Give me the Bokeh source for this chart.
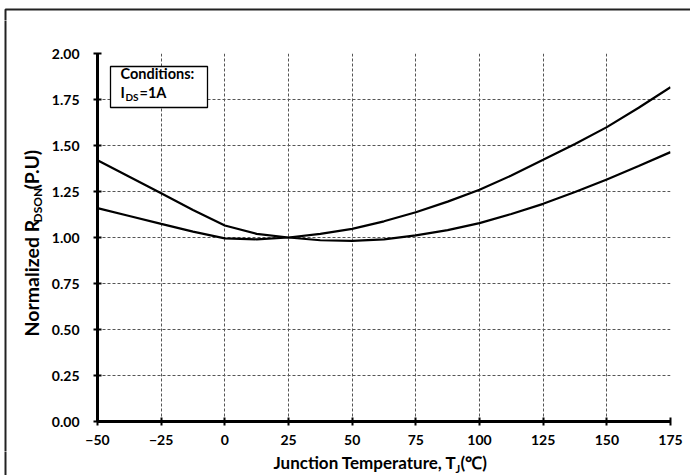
import math
from bokeh.plotting import figure
from bokeh.layouts import column, row
from bokeh.models import Range1d, FixedTicker, PrintfTickFormatter, Label, BoxAnnotation
from bokeh.embed import file_html
from bokeh.resources import INLINE

# ---- data ----
temps = [-50, -37.5, -25, -12.5, 0, 12.5, 25, 37.5, 50, 62.5, 75, 87.5, 100, 112.5, 125, 137.5, 150, 162.5, 175]
rdson_a = [1.42, 1.33, 1.24, 1.15, 1.065, 1.02, 1.00, 0.985, 0.982, 0.99, 1.012, 1.04, 1.078, 1.128, 1.183, 1.247, 1.315, 1.388, 1.464]
rdson_b = [1.16, 1.117, 1.074, 1.032, 0.995, 0.99, 1.00, 1.02, 1.047, 1.088, 1.137, 1.195, 1.26, 1.337, 1.422, 1.508, 1.60, 1.705, 1.817]
x_ticks = [-50, -25, 0, 25, 50, 75, 100, 125, 150, 175]
y_ticks = [0, 0.25, 0.5, 0.75, 1.0, 1.25, 1.5, 1.75, 2.0]

W, H = 690, 475
TOP_H = 20          # strip holding the top border
LEFT_W = 48         # strip holding the y-axis title
BOT_Y = 451         # canvas y where the x-title strip starts
FL, FR, FT, FB = 97, 670, 53, 421  # frame edges in canvas px
FONT = "Lato"
BORDER = "#222222"
SHIFT = 0.4         # baseline correction (in em) for Label text

# ---------------- main chart ----------------
p = figure(width=W - LEFT_W, height=BOT_Y - TOP_H, output_backend="svg", toolbar_location=None,
           x_range=Range1d(-50, 175), y_range=Range1d(0, 2),
           min_border_left=FL - LEFT_W, min_border_right=W - FR,
           min_border_top=FT - TOP_H, min_border_bottom=BOT_Y - FB,
           frame_align=False)
p.outline_line_color = None
p.background_fill_color = "white"
p.border_fill_color = "white"

for ax in (p.xaxis[0], p.yaxis[0]):
    ax.axis_line_width = 3
    ax.axis_line_color = "black"
    ax.major_tick_in = 4
    ax.major_tick_out = 4
    ax.major_tick_line_width = 2
    ax.major_tick_line_color = "black"
    ax.minor_tick_line_color = None
    ax.major_label_text_font = FONT
    ax.major_label_text_font_style = "bold"
    ax.major_label_text_font_size = "14px"
    ax.major_label_text_color = "black"

p.xaxis.ticker = FixedTicker(ticks=x_ticks)
p.yaxis.ticker = FixedTicker(ticks=y_ticks)
p.yaxis.formatter = PrintfTickFormatter(format="%.2f")
p.xaxis.major_label_standoff = 9
p.yaxis.major_label_standoff = 14

for g in (p.xgrid[0], p.ygrid[0]):
    g.grid_line_color = "#555555"
    g.grid_line_dash = "3 2"
    g.grid_line_width = 1

p.line(temps, rdson_a, line_color="black", line_width=2.2)
p.line(temps, rdson_b, line_color="black", line_width=2.2)

def sx(cx):
    return cx - FL

def sy(cy):
    return FB - cy

# conditions box
p.add_layout(BoxAnnotation(left=sx(110), right=sx(207), top=sy(66), bottom=sy(107),
                           left_units="screen", right_units="screen",
                           top_units="screen", bottom_units="screen",
                           fill_color="white", fill_alpha=1,
                           line_color="black", line_alpha=1, line_width=1.3))

def lab(fig, x, y, text, size, angle=0, units="screen"):
    fig.add_layout(Label(x=x, y=y, x_units=units, y_units=units,
                         text=text, text_font=FONT, text_font_style="bold",
                         text_font_size=f"{size}px", text_color="black",
                         angle=angle, text_align="left", text_baseline="alphabetic"))

def hlab_p(cx, base, text, size):
    lab(p, sx(cx), sy(base - SHIFT * size), text, size)

hlab_p(120, 79, "Conditions:", 14.5)
hlab_p(120, 97.5, "I", 14.5)
hlab_p(125, 100.5, "DS", 10)
hlab_p(139, 97.5, "=1A", 14.5)

# ---------------- helper strips (canvas-pixel data coords) ----------------
def strip(x0, x1, y0, y1):
    f = figure(width=x1 - x0, height=y1 - y0, output_backend="svg", toolbar_location=None,
               x_range=Range1d(x0, x1), y_range=Range1d(y1, y0),
               x_axis_location=None, y_axis_location=None, min_border=0,
               frame_align=False)
    f.grid.visible = False
    f.outline_line_color = None
    f.background_fill_color = "white"
    f.border_fill_color = "white"
    return f

def border(f, top):
    f.add_layout(BoxAnnotation(left=5, right=5000, top=top, bottom=5000,
                               fill_alpha=0, line_color=BORDER, line_alpha=1, line_width=2))

ft = strip(0, W, 0, TOP_H)
border(ft, 9)

fy = strip(0, LEFT_W, TOP_H, BOT_Y)
border(fy, -5000)
ang = math.pi / 2
def vlab(base_x, start_y, text, size):
    lab(fy, base_x - SHIFT * size, start_y, text, size, angle=ang, units="data")

vlab(38.5, 336, "Normalized R", 19.5)
vlab(41.5, 222, "DSON", 12)
vlab(38.5, 189, "(P.U)", 19.5)

fx = strip(0, W, BOT_Y, H)
border(fx, -5000)
def xlab(cx, base, text, size):
    lab(fx, cx, base - SHIFT * size, text, size, units="data")

xlab(273, 469, "Junction Temperature, T", 17)
xlab(455, 472, "J", 11)
xlab(460, 469, "(\u2103)", 17)

layout = column(ft, row(fy, p, spacing=0), fx, spacing=0)

open("out.html", "w").write(file_html(layout, INLINE))
